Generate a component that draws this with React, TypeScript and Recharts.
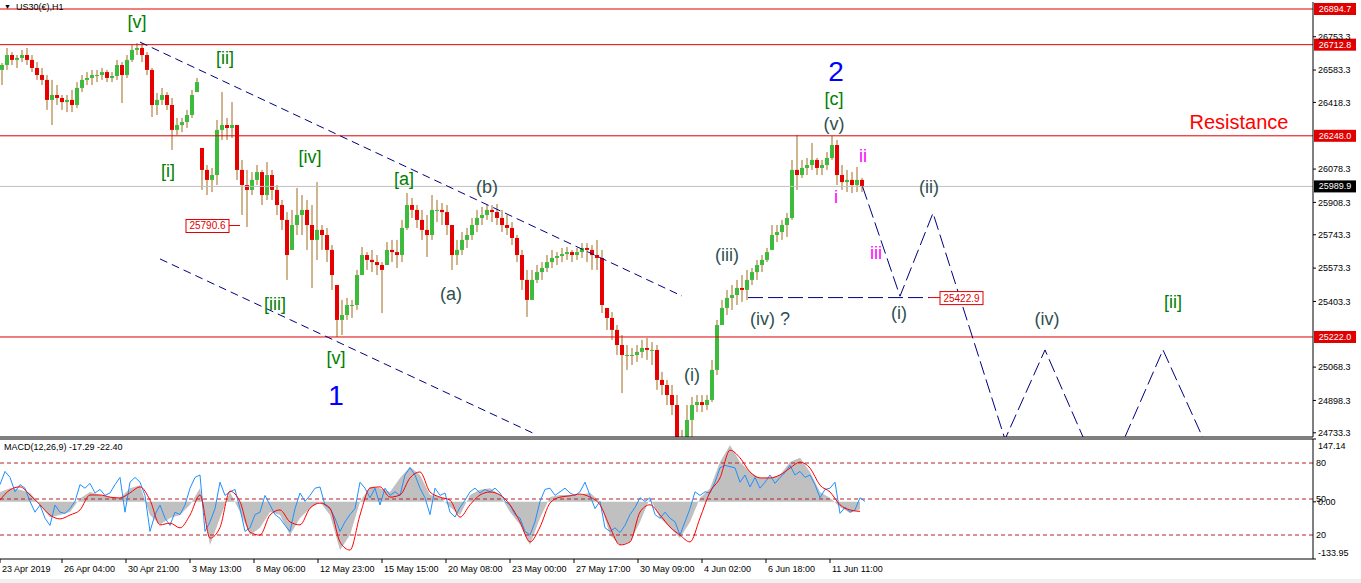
import React from 'react';
import {
  ComposedChart,
  Bar,
  Line,
  Area,
  XAxis,
  YAxis,
  ReferenceLine,
  ReferenceDot,
} from 'recharts';

const FONT = "'Liberation Sans', Arial, sans-serif";
const RED = '#e00000';
const NAVY = '#000080';
const UP = '#3dbb3d';
const DOWN = '#e60000';
const WICK = '#a26a1e';

const HOURS = 1313;
const PRICE_MIN = 24711.9;
const PRICE_MAX = 26930.4;
const MACD_MAX = 147.14;
const MACD_MIN = -133.95;

// US30 H1, grouped five bars per candle (hour = offset from 23 Apr 2019)
const firstOpen = 26584;
const highs = [
  26619, 26696, 26675, 26660, 26686, 26696, 26660, 26624, 26594, 26558,
  26533, 26507, 26456, 26456, 26482, 26522, 26558, 26573, 26584, 26584,
  26594, 26584, 26573, 26635, 26624, 26660, 26711, 26721, 26721, 26675,
  26594, 26466, 26492, 26471, 26441, 26339, 26339, 26380, 26482, 26543,
  26186, 26099, 26084, 26329, 26471, 26339, 26420, 26303, 26125, 26074,
  26063, 26099, 26074, 26114, 26074, 25997, 25921, 25859, 25870, 25982,
  25946, 25921, 25895, 26012, 25793, 25778, 25691, 25487, 25411, 25421,
  25411, 25564, 25681, 25655, 25666, 25640, 25604, 25706, 25717, 25717,
  25819, 25956, 25931, 25895, 25870, 25844, 25946, 25921, 25905, 25895,
  25793, 25717, 25757, 25778, 25829, 25870, 25885, 25895, 25895, 25900,
  25870, 25844, 25808, 25742, 25666, 25564, 25564, 25589, 25604, 25640,
  25666, 25655, 25676, 25681, 25666, 25676, 25701, 25701, 25691, 25717,
  25666, 25370, 25349, 25283, 25232, 25181, 25166, 25181, 25207, 25217,
  25196, 25181, 25044, 25003, 24977, 24926, 24748, 24875, 24916, 24926,
  24926, 24926, 25105, 25309, 25411, 25462, 25487, 25513, 25538, 25564,
  25574, 25615, 25640, 25676, 25793, 25793, 25819, 25854, 26125, 26252,
  26125, 26135, 26211, 26135, 26125, 26165, 26247, 26227, 26099, 26074,
  26063, 26089, 26033,
];
const lows = [
  26507, 26584, 26609, 26594, 26624, 26609, 26573, 26533, 26507, 26380,
  26303, 26405, 26380, 26369, 26369, 26390, 26471, 26507, 26507, 26522,
  26533, 26522, 26522, 26533, 26415, 26543, 26624, 26660, 26624, 26558,
  26344, 26354, 26405, 26380, 26176, 26252, 26267, 26288, 26339, 26471,
  25972, 25946, 25961, 25997, 26227, 26227, 26237, 26023, 25844, 25783,
  25946, 25997, 25895, 25921, 25921, 25844, 25768, 25513, 25666, 25742,
  25742, 25666, 25472, 25615, 25666, 25604, 25462, 25222, 25232, 25309,
  25319, 25360, 25538, 25564, 25553, 25538, 25344, 25589, 25604, 25574,
  25604, 25768, 25829, 25778, 25717, 25630, 25717, 25808, 25793, 25742,
  25564, 25589, 25640, 25676, 25717, 25757, 25793, 25819, 25808, 25793,
  25757, 25742, 25691, 25604, 25462, 25324, 25411, 25497, 25513, 25553,
  25574, 25589, 25604, 25615, 25604, 25615, 25625, 25604, 25564, 25564,
  25344, 25258, 25207, 25130, 24936, 25054, 25079, 25095, 25115, 25105,
  25079, 24952, 24926, 24875, 24824, 24646, 24595, 24620, 24712, 24839,
  24839, 24850, 24890, 25028, 25283, 25334, 25360, 25385, 25401, 25411,
  25487, 25513, 25553, 25604, 25666, 25706, 25717, 25732, 25819, 25972,
  26033, 26048, 26074, 26048, 26048, 26074, 26125, 25997, 25972, 25961,
  25956, 25961, 25961,
];
const closes = [
  26609, 26660, 26635, 26645, 26660, 26635, 26594, 26558, 26533, 26431,
  26456, 26441, 26420, 26431, 26405, 26492, 26533, 26543, 26558, 26558,
  26573, 26543, 26553, 26609, 26558, 26635, 26686, 26696, 26660, 26584,
  26405, 26431, 26456, 26405, 26278, 26303, 26318, 26354, 26456, 26522,
  26074, 26023, 26048, 26278, 26303, 26288, 26303, 26074, 25997, 25972,
  26023, 26063, 25946, 26048, 25972, 25895, 25819, 25640, 25793, 25844,
  25870, 25793, 25717, 25768, 25742, 25666, 25538, 25309, 25334, 25385,
  25385, 25538, 25640, 25615, 25604, 25589, 25564, 25666, 25655, 25640,
  25778, 25895, 25870, 25819, 25768, 25742, 25870, 25870, 25859, 25793,
  25640, 25666, 25717, 25742, 25793, 25829, 25844, 25870, 25859, 25829,
  25793, 25778, 25727, 25640, 25513, 25411, 25513, 25553, 25574, 25604,
  25625, 25635, 25645, 25655, 25640, 25655, 25676, 25666, 25640, 25625,
  25385, 25319, 25258, 25181, 25130, 25130, 25130, 25146, 25166, 25156,
  25156, 25003, 24977, 24926, 24875, 24697, 24646, 24799, 24875, 24890,
  24875, 24901, 25054, 25283, 25370, 25421, 25436, 25472, 25462, 25513,
  25553, 25589, 25615, 25655, 25742, 25757, 25793, 25829, 26074, 26048,
  26084, 26099, 26125, 26084, 26099, 26135, 26201, 26048, 26012, 26023,
  25997, 26023, 25989.9,
];

// oscillator overlay (20/50/80 levels), one value every 5 hours
const oscValues = [
  62, 73, 68, 56, 62, 59, 48, 39, 45, 34,
  28, 45, 39, 38, 42, 48, 62, 59, 63, 55,
  58, 53, 55, 62, 68, 39, 64, 68, 64, 53,
  23, 37, 45, 34, 28, 39, 37, 45, 59, 68,
  70, 23, 31, 42, 64, 53, 56, 58, 42, 23,
  26, 37, 39, 53, 45, 37, 34, 28, 23, 42,
  55, 48, 53, 59, 60, 45, 42, 34, 23, 31,
  37, 42, 64, 59, 51, 59, 45, 59, 53, 56,
  53, 70, 76, 70, 59, 51, 37, 59, 53, 55,
  39, 35, 43, 49, 56, 59, 55, 58, 56, 59,
  55, 48, 45, 37, 34, 23, 20, 31, 48, 58,
  59, 53, 56, 59, 55, 53, 56, 64, 53, 42,
  48, 26, 23, 26, 22, 28, 37, 43, 51, 48,
  51, 37, 34, 39, 34, 31, 20, 31, 42, 56,
  53, 56, 55, 64, 76, 78, 77, 76, 64, 70,
  60, 68, 59, 64, 70, 63, 68, 72, 78, 70,
  73, 68, 70, 62, 51, 58, 59, 64, 38, 43,
  39, 41, 51, 48,
];

// MACD(12,26,9) main and signal, one value every 10 hours
const macdValues = [
  23, 32, 28, 21, -7, -36, -31, -24, 8, 23,
  16, 11, 9, 32, 39, -31, -54, -38, -31, -7,
  32, -101, -38, 23, -24, -78, -61, -24, -31, -78,
  -38, -15, 0, -31, -113, -78, 0, 35, 32, 23,
  56, 82, 63, 16, 11, -12, -31, 16, 28, 32,
  16, -24, -54, -101, -38, 11, 16, 16, 16, 21,
  0, -78, -101, -94, -47, 9, -38, -61, -85, -47,
  9, 32, 93, 133, 93, 70, 56, 56, 63, 93,
  103, 70, 23, 9, -12, -26, -17.29,
];
const signalValues = [
  4, 28, 35, 16, -7, -31, -40, -31, -19, 16,
  16, 11, 9, 21, 35, 4, -54, -50, -61, -31,
  16, -85, -60, 25, 0, -71, -78, -31, -19, -47,
  -54, -15, -3, -15, -94, -113, -31, 32, 35, 11,
  16, 56, 70, 23, 11, 4, -36, -7, 16, 23,
  16, -7, -47, -94, -59, -3, 11, 14, 18, 11,
  -7, -59, -101, -94, -24, -7, -31, -59, -78, -94,
  -38, 23, 56, 121, 103, 70, 56, 56, 63, 79,
  93, 79, 39, 23, -7, -19, -22.4,
];

const timeTicks = [0, 62, 126, 190, 254, 318, 382, 446, 510, 574, 638, 702, 766, 830];
const timeLabels = [
  '23 Apr 2019', '26 Apr 04:00', '30 Apr 21:00', '3 May 13:00', '8 May 06:00',
  '12 May 23:00', '15 May 15:00', '20 May 08:00', '23 May 00:00', '27 May 17:00',
  '30 May 09:00', '4 Jun 02:00', '6 Jun 18:00', '11 Jun 11:00',
];

const priceTicks = [
  26753.3, 26583.3, 26418.3, 26078.3, 25908.3, 25743.3, 25573.3, 25403.3,
  25068.3, 24898.3, 24733.3,
];
const levels = [26894.7, 26712.8, 26248.0, 25222.0];
const lastPrice = 25989.9;
const oscLevels = [80, 50, 20];

// trend channel and the projected path
const upperChannel = [{ x: 140, y: 26726 }, { x: 682, y: 25431 }];
const lowerChannel = [{ x: 160, y: 25620 }, { x: 535, y: 24727 }];
const waveFourLine = [{ x: 748, y: 25422.9 }, { x: 929, y: 25422.9 }];
const projection = [
  { hour: 862.5, price: 25989.9 },
  { hour: 900, price: 25430 },
  { hour: 933, price: 25854 },
  { hour: 1005, price: 24700 },
  { hour: 1045, price: 25156 },
  { hour: 1104, price: 24467 },
  { hour: 1163, price: 25156 },
  { hour: 1222, price: 24493 },
];

const leftTags = [{ hour: 240, price: 25790.6 }];
const rightTags = [{ hour: 929, price: 25422.9 }];

// wave counts
const minuteWaves = [
  { text: '[v]', hour: 137, price: 26828 },
  { text: '[ii]', hour: 225, price: 26645 },
  { text: '[i]', hour: 168, price: 26068 },
  { text: '[iv]', hour: 310, price: 26140 },
  { text: '[iii]', hour: 275, price: 25390 },
  { text: '[v]', hour: 336, price: 25115 },
  { text: '[a]', hour: 404, price: 26028 },
  { text: '[c]', hour: 834, price: 26436 },
  { text: '[ii]', hour: 1173, price: 25400 },
];
const minuetteWaves = [
  { text: '(b)', hour: 487, price: 25987 },
  { text: '(a)', hour: 451, price: 25441 },
  { text: '(iii)', hour: 727, price: 25640 },
  { text: '(iv) ?', hour: 770, price: 25314 },
  { text: '(i)', hour: 692, price: 25028 },
  { text: '(v)', hour: 834, price: 26308 },
  { text: '(ii)', hour: 929, price: 25987 },
  { text: '(i)', hour: 899, price: 25344 },
  { text: '(iv)', hour: 1047, price: 25314 },
];
const subminuetteWaves = [
  { text: 'ii', hour: 863, price: 26145 },
  { text: 'i', hour: 836, price: 25936 },
  { text: 'iii', hour: 876, price: 25650 },
];
const minorWaves = [
  { text: '1', hour: 336, price: 24926 },
  { text: '2', hour: 836, price: 26578 },
];
const notes = [{ text: 'Resistance', hour: 1239, price: 26318 }];

const candles = closes.map((close, i) => ({
  hour: 2.5 + i * 5,
  open: i === 0 ? firstOpen : closes[i - 1],
  high: highs[i],
  low: lows[i],
  close,
}));
const oscData = oscValues.map((osc, i) => ({ hour: i * 5, osc }));
const macdData = macdValues.map((macd, i) => ({ hour: i * 10, macd }));
const signalData = signalValues.map((signal, i) => ({ hour: i * 10, signal }));

const Candle = (props: any) => {
  const { x, y, width, height, payload } = props;
  if (!payload) return null;
  const { open, close, high, low } = payload;
  const top = Math.min(y, y + height);
  const h = Math.abs(height);
  const span = high - low || 1;
  const toY = (v: number) => top + ((high - Math.min(high, Math.max(low, v))) / span) * h;
  const bodyTop = toY(Math.max(open, close));
  const bodyBottom = toY(Math.min(open, close));
  const cx = x + width / 2;
  return (
    <g>
      <line x1={cx} x2={cx} y1={top} y2={top + h} stroke={WICK} strokeWidth={1} />
      <rect
        x={x}
        y={bodyTop}
        width={width}
        height={Math.max(1, bodyBottom - bodyTop)}
        fill={close >= open ? UP : DOWN}
      />
    </g>
  );
};

const levelTag = (value: number, fill: string) => (props: any) => {
  const { viewBox } = props;
  const x = viewBox.x + viewBox.width + 1;
  const y = viewBox.y;
  return (
    <g>
      <rect x={x} y={y - 6} width={42} height={12} fill={fill} />
      <text
        x={x + 21}
        y={y}
        textAnchor="middle"
        dominantBaseline="central"
        fill="#fff"
        fontSize={9}
        fontFamily={FONT}
      >
        {value.toFixed(1)}
      </text>
    </g>
  );
};

const oscTag = (value: number) => (props: any) => {
  const { viewBox } = props;
  return (
    <text
      x={viewBox.x + viewBox.width + 3}
      y={viewBox.y}
      dominantBaseline="central"
      fontSize={9}
      fontFamily={FONT}
      fill="#000"
    >
      {String(value)}
    </text>
  );
};

const priceTag = (price: number, side: 'left' | 'right') => (props: any) => {
  const { cx, cy } = props;
  const boxX = side === 'left' ? cx - 54 : cx + 11;
  const lineX = side === 'left' ? cx - 11 : cx + 11;
  return (
    <g>
      <line x1={cx} x2={lineX} y1={cy} y2={cy} stroke={RED} />
      <rect x={boxX} y={cy - 6} width={43} height={13} fill="#fff" stroke={RED} />
      <text
        x={boxX + 21.5}
        y={cy + 0.5}
        textAnchor="middle"
        dominantBaseline="central"
        fill={RED}
        fontSize={10}
        fontFamily={FONT}
      >
        {price.toFixed(1)}
      </text>
    </g>
  );
};

const waveText = (text: string, color: string, size: number) => (props: any) => (
  <text
    x={props.cx}
    y={props.cy}
    textAnchor="middle"
    dominantBaseline="central"
    fill={color}
    fontSize={size}
    fontFamily={FONT}
  >
    {text}
  </text>
);

const TimeTick = (props: any) => {
  const { x, y, payload } = props;
  const i = timeTicks.indexOf(payload.value);
  return (
    <text x={x + 2} y={y} dy="0.72em" textAnchor="start" fontSize={9} fontFamily={FONT} fill="#000">
      {timeLabels[i]}
    </text>
  );
};

const MacdTick = (props: any) => {
  const { x, y, payload } = props;
  const v = payload.value;
  const shift = v === MACD_MAX ? 7 : v === MACD_MIN ? -6 : 0;
  return (
    <text x={x} y={y + shift} dominantBaseline="central" textAnchor="start" fontSize={9} fontFamily={FONT} fill="#000">
      {v.toFixed(2)}
    </text>
  );
};

const waveGroups = [
  { items: minuteWaves, color: '#008000', size: 18 },
  { items: minuetteWaves, color: '#2f4f4f', size: 18 },
  { items: subminuetteWaves, color: '#ff00ff', size: 18 },
  { items: minorWaves, color: '#0000ff', size: 28 },
  { items: notes, color: '#ff0000', size: 20 },
];

export default function App() {
  return (
    <div
      style={{
        position: 'absolute',
        left: 0,
        top: 0,
        width: 1361,
        height: 583,
        background: '#fff',
        overflow: 'hidden',
        fontFamily: FONT,
      }}
    >
      <div style={{ position: 'absolute', left: 0, top: 0 }}>
        <ComposedChart width={1361} height={440} data={candles} margin={{ top: 2, right: 0, bottom: 2, left: 0 }}>
          <XAxis
            dataKey="hour"
            type="number"
            domain={[0, HOURS]}
            allowDataOverflow
            tick={false}
            tickLine={false}
            height={1}
            axisLine={{ stroke: '#000' }}
          />
          <YAxis
            orientation="right"
            width={48}
            domain={[PRICE_MIN, PRICE_MAX]}
            allowDataOverflow
            ticks={priceTicks}
            interval={0}
            tickSize={3}
            tickLine={{ stroke: '#000' }}
            axisLine={{ stroke: '#000' }}
            tick={{ fontSize: 9, fill: '#000', fontFamily: FONT }}
            tickFormatter={(v: number) => v.toFixed(1)}
          />
          {levels.map((l) => (
            <ReferenceLine key={l} y={l} stroke={RED} label={levelTag(l, RED)} />
          ))}
          <ReferenceLine y={lastPrice} stroke="#c0c0c0" label={levelTag(lastPrice, '#000')} />
          <ReferenceLine segment={upperChannel} stroke={NAVY} strokeDasharray="8 5" />
          <ReferenceLine segment={lowerChannel} stroke={NAVY} strokeDasharray="8 5" />
          <ReferenceLine segment={waveFourLine} stroke={NAVY} strokeDasharray="15 5" />
          <Bar
            dataKey={(d: any) => [d.low, d.high]}
            barSize={4}
            shape={Candle}
            isAnimationActive={false}
          />
          <Line
            data={projection}
            dataKey="price"
            type="linear"
            stroke={NAVY}
            strokeWidth={1}
            strokeDasharray="14 5"
            dot={false}
            activeDot={false}
            isAnimationActive={false}
          />
          {leftTags.map((t) => (
            <ReferenceDot key={`l${t.hour}`} x={t.hour} y={t.price} shape={priceTag(t.price, 'left')} />
          ))}
          {rightTags.map((t) => (
            <ReferenceDot key={`r${t.hour}`} x={t.hour} y={t.price} shape={priceTag(t.price, 'right')} />
          ))}
          {waveGroups.map((g) =>
            g.items.map((w) => (
              <ReferenceDot
                key={`${w.text}-${w.hour}`}
                x={w.hour}
                y={w.price}
                shape={waveText(w.text, g.color, g.size)}
              />
            )),
          )}
        </ComposedChart>
      </div>

      <div style={{ position: 'absolute', left: 0, top: 437 }}>
        <ComposedChart width={1361} height={146} margin={{ top: 2, right: 0, bottom: 0, left: 0 }}>
          <XAxis
            dataKey="hour"
            type="number"
            domain={[0, HOURS]}
            allowDataOverflow
            ticks={timeTicks}
            interval={0}
            height={24}
            tickSize={4}
            tickMargin={3}
            axisLine={{ stroke: '#000' }}
            tickLine={{ stroke: '#000' }}
            tick={TimeTick}
          />
          <YAxis
            yAxisId="macd"
            orientation="right"
            width={48}
            domain={[MACD_MIN, MACD_MAX]}
            allowDataOverflow
            ticks={[MACD_MAX, 0, MACD_MIN]}
            interval={0}
            tickSize={3}
            tickLine={{ stroke: '#000' }}
            axisLine={{ stroke: '#000' }}
            tick={MacdTick}
          />
          <YAxis yAxisId="osc" hide domain={[0, 100]} allowDataOverflow />
          <ReferenceLine yAxisId="macd" y={MACD_MAX} stroke="#000" />
          <Area
            yAxisId="macd"
            data={macdData}
            dataKey="macd"
            type="linear"
            baseValue={0}
            fill="#c0c0c0"
            fillOpacity={1}
            stroke="none"
            isAnimationActive={false}
            activeDot={false}
          />
          {oscLevels.map((l) => (
            <ReferenceLine
              key={l}
              yAxisId="osc"
              y={l}
              stroke="#b22222"
              strokeDasharray="4 3"
              label={oscTag(l)}
            />
          ))}
          <Line
            yAxisId="osc"
            data={oscData}
            dataKey="osc"
            type="linear"
            stroke="#1e90ff"
            strokeWidth={1}
            dot={false}
            activeDot={false}
            isAnimationActive={false}
          />
          <Line
            yAxisId="macd"
            data={signalData}
            dataKey="signal"
            type="monotone"
            stroke="#ff0000"
            strokeWidth={1}
            dot={false}
            activeDot={false}
            isAnimationActive={false}
          />
        </ComposedChart>
      </div>

      <div style={{ position: 'absolute', left: 4, top: 1, fontSize: 7, lineHeight: '12px' }}>▼</div>
      <div style={{ position: 'absolute', left: 16, top: 1, fontSize: 9, lineHeight: '12px' }}>US30(€),H1</div>
      <div style={{ position: 'absolute', left: 4, top: 441, fontSize: 9, lineHeight: '12px' }}>
        MACD(12,26,9) -17.29 -22.40
      </div>
      <div style={{ position: 'absolute', left: 0, top: 579, width: 1361, height: 4, background: '#f0f0f0' }} />
    </div>
  );
}
